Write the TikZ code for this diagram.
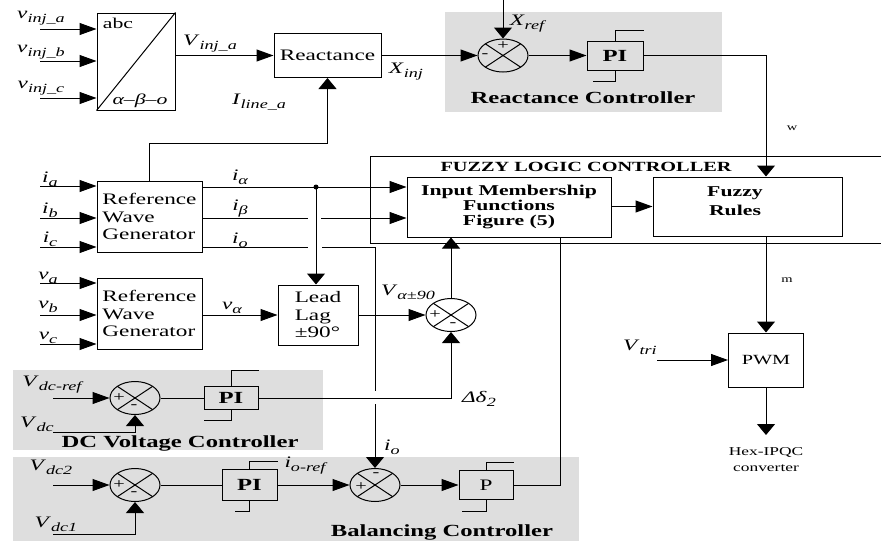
\documentclass[tikz,border=0pt]{standalone}
\usepackage{fontspec}
\setmainfont[FakeStretch=1.45]{Liberation Serif}
\usepackage{tikz}
\usetikzlibrary{shapes.geometric, arrows.meta}
\newcommand{\sgl}[2]{\textit{#1}\raisebox{-4pt}{\fontsize{12.5}{13}\selectfont\itshape #2}}

\begin{document}
\begin{tikzpicture}[x=1pt,y=-1pt,
  wire/.style={line width=1pt},
  hto/.style={wire, -{Triangle[length=17pt,width=12pt]}},
  vto/.style={wire, -{Triangle[length=11pt,width=18pt]}},
  blk/.style={draw, line width=1pt, inner sep=0pt, align=center, font=\fontsize{16}{17.5}\selectfont},
  pibox/.style={blk, font=\fontsize{17}{17}\selectfont\bfseries},
  sumj/.style={draw, ellipse, line width=1pt, minimum width=50pt, minimum height=33pt, inner sep=0pt},
  grp/.style={fill=black!13},
  lbl/.style={inner sep=0pt, font=\fontsize{16}{18}\selectfont},
  note/.style={inner sep=0pt, align=center, font=\fontsize{12}{16}\selectfont},
  ttl/.style={inner sep=0pt, align=center, font=\fontsize{17}{19}\selectfont\bfseries},
  pm/.style={inner sep=0pt, font=\fontsize{14}{14}\selectfont}]
\useasboundingbox (0,0) rectangle (881,541);
\fill[white] (0,0) rectangle (881,541);
\fill[grp] (445,12) rectangle (722,112);
\fill[grp] (13,370) rectangle (323,450);
\fill[grp] (13,457) rectangle (579,541);

\node[blk, minimum width=78pt, minimum height=97pt] (abc) at (136,61.5) {};
\node[blk, minimum width=107pt, minimum height=44pt] (react) at (327.5,55.5) {Reactance};
\node[sumj] (sx) at (503,55.5) {};
\node[pibox, minimum width=56pt, minimum height=29pt] (pix) at (615,55.5) {PI};
\node[draw, line width=1pt, minimum width=520pt, minimum height=87pt] (flc) at (630,199.5) {};
\node[blk, font=\fontsize{15}{15}\selectfont\bfseries, minimum width=204pt, minimum height=60pt] (imf) at (509,207) {Input Membership\\Functions\\Figure (5)};
\node[blk, minimum width=189pt, minimum height=59pt] (rules) at (747.5,206.5) {};
\node[ttl, font=\fontsize{15}{19}\selectfont\bfseries] (rulestxt) at (735,201.5) {Fuzzy\\Rules};
\node[blk, minimum width=75pt, minimum height=54pt, font=\fontsize{14}{16}\selectfont] (pwm) at (766,360) {PWM};
\node[blk, align=left, minimum width=105pt, minimum height=71pt] (rwg1) at (149.5,216.5) {Reference\\Wave\\Generator};
\node[blk, align=left, minimum width=105pt, minimum height=71pt] (rwg2) at (149.5,313.5) {Reference\\Wave\\Generator};
\node[blk, align=left, minimum width=80pt, minimum height=60pt] (lead) at (318,315) {Lead\\Lag\\±90°};
\node[sumj] (s2) at (451,315) {};
\node[sumj] (sdc) at (135,398) {};
\node[pibox, minimum width=54pt, minimum height=23pt] (pidc) at (231,398) {PI};
\node[sumj] (sbal) at (135,485) {};
\node[pibox, minimum width=55pt, minimum height=31pt] (pibal) at (249.5,485) {PI};
\node[sumj] (sbal2) at (375,485) {};
\node[blk, minimum width=54pt, minimum height=29pt] (pbal) at (486,485) {P};

\foreach \s in {sx,s2,sdc,sbal,sbal2}
  \draw[wire] ([shift={(-17.7,-11.7)}]\s.center) -- ([shift={(17.7,11.7)}]\s.center)
              ([shift={(-17.7,11.7)}]\s.center) -- ([shift={(17.7,-11.7)}]\s.center);
\foreach \s/\px/\py/\mx/\my in {sx/0/-10/-18/0, s2/-16/0/2/10, sdc/-16/0/-1/9, sbal/-16/0/-1/9, sbal2/-14/2/1/-10} {
  \node[pm] (\s plus) at ([shift={(\px,\py)}]\s.center) {+};
  \node[pm] (\s minus) at ([shift={(\mx,\my)}]\s.center) {-};
}
\foreach \nm/\up/\dn/\lf in {pix/10/11/22, pidc/16/10/27, pibal/8/10/15, pbal/8/11/24} {
  \draw[wire] (\nm.north) -- ++(0,-\up) -- ([yshift=\up pt]\nm.north east);
  \draw[wire] (\nm.south) -- ++(0,\dn) -- ++(-\lf,0);
}

\draw[wire] (abc.south west) -- (abc.north east);
\node[inner sep=0pt, font=\fontsize{15}{15}\selectfont] (abclbl) at (118,23) {abc};
\node[inner sep=0pt, font=\fontsize{15}{15}\selectfont\itshape] (abglbl) at (140,101) {α–β–o};
\foreach \n/\y in {a/29,b/61,c/98} {
  \coordinate (vinj\n) at (40,\y);
  \draw[hto] (vinj\n) -- (vinj\n -| abc.west);
}
\draw[hto] (abc.east |- react.west) -- (react.west);
\draw[hto] (react.east) -- (sx.west);
\coordinate (xref) at (503,0);
\draw[vto] (xref) -- (sx.north);
\draw[hto] (sx.east) -- (pix.west);
\coordinate (wturn) at (766,55.5);
\draw[vto] (pix.east) -- (wturn) -- (wturn |- rules.north);
\draw[hto] (imf.east |- rules.west) -- (rules.west);
\draw[vto] (wturn |- rules.south) -- (wturn |- pwm.north);
\coordinate (vtri) at (657,360);
\draw[hto] (vtri) -- (pwm.west);
\coordinate (hexout) at (766,435);
\draw[vto] (pwm.south) -- (hexout);
\node[note] (hex) at (766,460) {Hex-IPQC\\converter};

\foreach \n/\y in {a/186,b/218,c/247} {
  \coordinate (i\n) at (40,\y);
  \draw[hto] (i\n) -- (i\n -| rwg1.west);
}
\foreach \n/\y in {a/283,b/315,c/344} {
  \coordinate (v\n) at (40,\y);
  \draw[hto] (v\n) -- (v\n -| rwg2.west);
}
\coordinate (ialpha) at (202,187);
\coordinate (dot) at (316,187);
\draw[hto] (ialpha) -- (ialpha -| imf.west);
\fill (dot) circle (2.5);
\draw[vto] (dot) -- (dot |- lead.north);
\coordinate (ibeta) at (202,218);
\coordinate (gapb1) at (308,218);
\coordinate (gapb2) at (321,218);
\draw[wire] (ibeta) -- (gapb1);
\draw[hto] (gapb2) -- (ibeta -| imf.west);
\coordinate (izero) at (202,247);
\coordinate (gapo1) at (308,247);
\coordinate (gapo2) at (322,247);
\coordinate (iocorner) at (375,247);
\coordinate (gapv1) at (375,391);
\coordinate (gapv2) at (375,404);
\draw[wire] (izero) -- (gapo1);
\draw[wire] (gapo2) -- (iocorner) -- (gapv1);
\draw[vto] (gapv2) -- (sbal2.north);
\coordinate (iline) at (327.5,143);
\draw[vto] (rwg1.north) |- (iline) -- (react.south);

\draw[hto] (rwg2.east |- lead.west) -- (lead.west);
\draw[hto] (lead.east) -- (s2.west);
\draw[vto] (s2.north) -- (s2.north |- imf.south);
\coordinate (vdcref) at (53,398);
\draw[hto] (vdcref) -- (sdc.west);
\coordinate (vdc) at (53,432);
\draw[vto] (vdc) -| (sdc.south);
\draw[wire] (sdc.east) -- (pidc.west);
\draw[vto] (pidc.east) -| (s2.south);
\coordinate (vdctwo) at (53,485);
\draw[hto] (vdctwo) -- (sbal.west);
\coordinate (vdcone) at (53,534);
\draw[vto] (vdcone) -| (sbal.south);
\draw[wire] (sbal.east) -- (pibal.west);
\draw[hto] (pibal.east) -- (sbal2.west);
\draw[hto] (sbal2.east) -- (pbal.west);
\coordinate (pturn) at (560,485);
\draw[wire] (pbal.east) -- (pturn) -- (pturn |- imf.south);

\node[lbl] (lvinja) at (41,18) {\sgl{v}{inj\_a}};
\node[lbl] (lvinjb) at (41,52) {\sgl{v}{inj\_b}};
\node[lbl] (lvinjc) at (41,88) {\sgl{v}{inj\_c}};
\node[lbl] (lvout) at (210,44) {\sgl{V}{inj\_a}};
\node[lbl] (lxinj) at (406,72) {\sgl{X}{inj}};
\node[lbl] (liline) at (259,102) {\sgl{I}{line\_a}};
\node[lbl] (lxref) at (527,24) {\sgl{X}{ref}};
\node[note, font=\fontsize{10}{10}\selectfont] (lw) at (792,128) {w};
\node[note, font=\fontsize{10}{10}\selectfont] (lm) at (787,280) {m};
\node[lbl] (lia) at (50,179) {\sgl{i}{a}};
\node[lbl] (lib) at (50,210) {\sgl{i}{b}};
\node[lbl] (lic) at (50,239) {\sgl{i}{c}};
\node[lbl] (lialpha) at (240,177) {\sgl{i}{α}};
\node[lbl] (libeta) at (240,209) {\sgl{i}{β}};
\node[lbl] (lizero) at (240,240) {\sgl{i}{o}};
\node[lbl] (lva) at (48,278) {\sgl{v}{a}};
\node[lbl] (lvb) at (48,307) {\sgl{v}{b}};
\node[lbl] (lvc) at (48,338) {\sgl{v}{c}};
\node[lbl] (lvalpha) at (232,308) {\sgl{v}{α}};
\node[lbl] (lvshift) at (408,292) {\sgl{V}{α±90}};
\node[lbl] (ldelta) at (479,399) {\sgl{Δδ}{2}};
\node[lbl] (lio) at (392,447) {\sgl{i}{o}};
\node[lbl] (lvdcref) at (52,385) {\sgl{V}{dc-ref}};
\node[lbl] (lvdc) at (37,424) {\sgl{V}{dc}};
\node[lbl] (lvdctwo) at (51,467) {\sgl{V}{dc2}};
\node[lbl] (lvdcone) at (56,524) {\sgl{V}{dc1}};
\node[lbl] (lioref) at (305,466) {\sgl{i}{o-ref}};
\node[lbl] (lvtri) at (640,347) {\sgl{V}{tri}};

\node[ttl] (treact) at (583,98) {Reactance Controller};
\node[ttl, font=\fontsize{14}{16}\selectfont\bfseries] (tflc) at (586,167) {FUZZY LOGIC CONTROLLER};
\node[ttl] (tdc) at (180,443) {DC Voltage Controller};
\node[ttl] (tbal) at (442,532) {Balancing Controller};
\end{tikzpicture}
\end{document}
